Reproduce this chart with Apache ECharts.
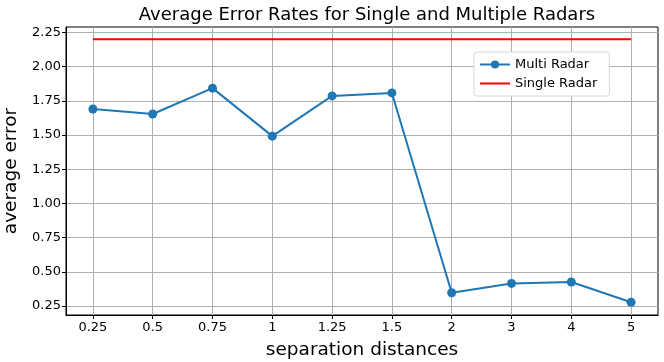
<!DOCTYPE html>
<html>
<head>
<meta charset="utf-8">
<script src="https://cdn.jsdelivr.net/npm/echarts@6/dist/echarts.min.js"></script>
<style>
  html, body { margin: 0; padding: 0; background: #fff; }
  #chart { width: 664px; height: 362px; }
</style>
</head>
<body>
<div id="chart"></div>
<script>
// separation distances (category labels on x)
const distances = ['0.25', '0.5', '0.75', '1', '1.25', '1.5', '2', '3', '4', '5'];
const multiRadar = [1.69, 1.654, 1.843, 1.492, 1.786, 1.808, 0.347, 0.415, 0.425, 0.277];
const singleRadar = [2.2, 2.2, 2.2, 2.2, 2.2, 2.2, 2.2, 2.2, 2.2, 2.2];
const yTicks = [0.25, 0.5, 0.75, 1.0, 1.25, 1.5, 1.75, 2.0, 2.25];

const font = 'DejaVu Sans';
const idx = distances.map((d, i) => i);

const chart = echarts.init(document.getElementById('chart'), null, { renderer: 'canvas' });

chart.setOption({
    backgroundColor: '#fff',
    animation: false,
    title: {
        text: 'Average Error Rates for Single and Multiple Radars',
        left: 362,
        textAlign: 'center',
        top: 1,
        textStyle: { fontFamily: font, fontSize: 18, fontWeight: 'normal', color: '#000' }
    },
    legend: {
        orient: 'vertical',
        left: 474,
        top: 52,
        itemWidth: 30,
        itemHeight: 10,
        itemGap: 6,
        padding: [6, 12, 6, 5],
        backgroundColor: '#fff',
        borderColor: '#d8d8d8',
        borderWidth: 1,
        borderRadius: 3,
        textStyle: { fontFamily: font, fontSize: 13, color: '#000' },
        data: [
            { name: 'Multi Radar' },
            { name: 'Single Radar', itemStyle: { opacity: 0 } }
        ]
    },
    grid: {
        left: 66, right: 6, top: 27, bottom: 47,
        show: true, borderColor: '#000', borderWidth: 1,
        outerBoundsMode: 'none'
    },
    xAxis: {
        type: 'value',
        min: -0.45,
        max: 9.45,
        name: 'separation distances',
        nameLocation: 'middle',
        nameGap: 26,
        nameTextStyle: { fontFamily: font, fontSize: 18.5, color: '#000' },
        axisLine: { onZero: false, lineStyle: { color: '#000' } },
        axisTick: { customValues: idx, length: 4, lineStyle: { color: '#000' } },
        axisLabel: {
            customValues: idx,
            formatter: v => distances[Math.round(v)],
            fontFamily: font, fontSize: 13, color: '#000', margin: 6
        },
        splitLine: { show: true, lineStyle: { color: '#b0b0b0', width: 1 } }
    },
    yAxis: {
        type: 'value',
        min: 0.184,
        max: 2.29,
        name: 'average error',
        nameLocation: 'middle',
        nameGap: 43,
        nameTextStyle: { fontFamily: font, fontSize: 18.5, color: '#000' },
        axisLine: { show: true, onZero: false, lineStyle: { color: '#000' } },
        axisTick: { show: true, customValues: yTicks, length: 4, lineStyle: { color: '#000' } },
        axisLabel: {
            customValues: yTicks,
            formatter: v => v.toFixed(2),
            fontFamily: font, fontSize: 13, color: '#000', margin: 5
        },
        splitLine: { show: true, lineStyle: { color: '#b0b0b0', width: 1 } }
    },
    series: [
        {
            name: 'Multi Radar',
            type: 'line',
            data: idx.map(i => [i, multiRadar[i]]),
            symbol: 'circle',
            symbolSize: 9,
            itemStyle: { color: '#1f77b4' },
            lineStyle: { color: '#1f77b4', width: 2 },
            z: 3
        },
        {
            name: 'Single Radar',
            type: 'line',
            data: idx.map(i => [i, singleRadar[i]]),
            symbol: 'none',
            itemStyle: { color: '#ff0000' },
            lineStyle: { color: '#ff0000', width: 2 },
            z: 2
        }
    ]
});
</script>
</body>
</html>
